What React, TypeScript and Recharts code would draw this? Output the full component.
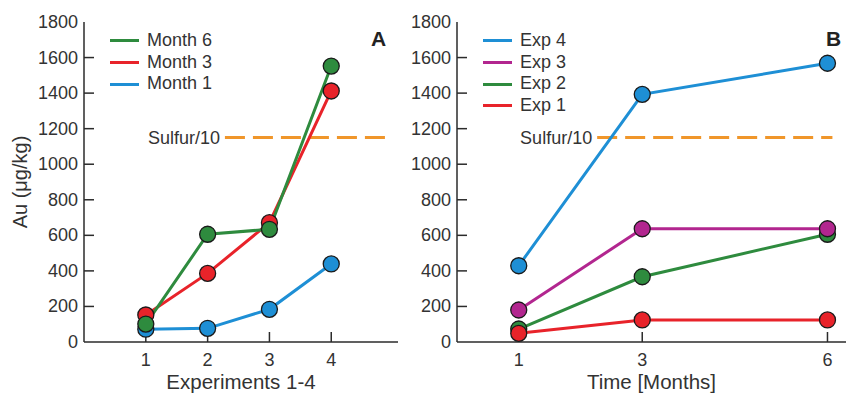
import React from 'react';
import { LineChart, Line, XAxis, YAxis, ReferenceLine, Legend, Label } from 'recharts';

const expNumbers = [1, 2, 3, 4];
const month6 = [101, 606, 634, 1552];
const month3 = [152, 386, 671, 1412];
const month1 = [72, 77, 184, 439];

const months = [1, 3, 6];
const exp4 = [429, 1393, 1568];
const exp3 = [180, 637, 637];
const exp2 = [73, 367, 606];
const exp1 = [49, 124, 124];

const yTicks = [0, 200, 400, 600, 800, 1000, 1200, 1400, 1600, 1800];
const sulfurLevel = 1150;
const sulfurA = [2.28, 4.9];
const sulfurB = [2.27, 6.08];

const C = {
  green: '#2E8B3E',
  red: '#E8232A',
  blue: '#1E8FD5',
  magenta: '#B2268F',
  orange: '#F0962A',
  axis: '#2b2b2b',
  text: '#333333',
};

const FONT = '"Liberation Sans", Arial, Helvetica, sans-serif';

const dataA = expNumbers.map((x, i) => ({ x, m6: month6[i], m3: month3[i], m1: month1[i] }));
const dataB = months.map((x, i) => ({ x, e4: exp4[i], e3: exp3[i], e2: exp2[i], e1: exp1[i] }));

const seriesA = [
  { key: 'm6', name: 'Month 6', color: C.green },
  { key: 'm3', name: 'Month 3', color: C.red },
  { key: 'm1', name: 'Month 1', color: C.blue },
];
const drawOrderA = ['m1', 'm3', 'm6'];

const seriesB = [
  { key: 'e4', name: 'Exp 4', color: C.blue },
  { key: 'e3', name: 'Exp 3', color: C.magenta },
  { key: 'e2', name: 'Exp 2', color: C.green },
  { key: 'e1', name: 'Exp 1', color: C.red },
];
const drawOrderB = ['e2', 'e1', 'e3', 'e4'];

const TICK_PX = 10;
const Y_GAP = 6;
const X_GAP = 11;
const PLOT_TOP = 22;
const CHART_H = 393;
const X_AXIS_H = 51;
const Y_AXIS_W = 84;
const Y_DOMAIN: [number, number] = [0, 1800];

const dot = (color: string) => ({ r: 8, fill: color, stroke: '#1a1a1a', strokeWidth: 1.3 });

function renderYTick(props: any) {
  const { x, y, payload } = props;
  return (
    <text x={x} y={y} textAnchor="end" dominantBaseline="central" fill={C.text} fontSize={18} fontFamily={FONT}>
      {payload.value}
    </text>
  );
}

function renderXTick(props: any) {
  const { x, y, payload } = props;
  return (
    <text x={x} y={y} dy="0.71em" textAnchor="middle" fill={C.text} fontSize={18} fontFamily={FONT}>
      {payload.value}
    </text>
  );
}

function LegendBox({ items }: { items: { name: string; color: string }[] }) {
  return (
    <div style={{ fontFamily: FONT, fontSize: 18, color: C.text, lineHeight: '21.7px' }}>
      {items.map((it) => (
        <div key={it.name} style={{ display: 'flex', alignItems: 'center', height: 21.7 }}>
          <span style={{ display: 'inline-block', width: 29, height: 3, background: it.color, marginRight: 8 }} />
          <span>{it.name}</span>
        </div>
      ))}
    </div>
  );
}

function YLabel(props: any) {
  const vb = props.viewBox || {};
  const cx = 20;
  const cy = (vb.y || 0) + (vb.height || 0) / 2;
  return (
    <text
      x={cx}
      y={cy}
      transform={`rotate(-90, ${cx}, ${cy})`}
      textAnchor="middle"
      dominantBaseline="central"
      fill={C.text}
      fontSize={20}
      fontFamily={FONT}
    >
      Au (μg/kg)
    </text>
  );
}

function Panel(props: {
  data: any[];
  series: { key: string; name: string; color: string }[];
  order: string[];
  xTicks: number[];
  xDomain: [number, number];
  xLabel: string;
  width: number;
  marginRight: number;
  sulfur: number[];
  legendLeft: number;
  showYLabel: boolean;
  rightBorder: boolean;
}) {
  const { data, series, order, xTicks, xDomain, xLabel, width, marginRight, sulfur, legendLeft, showYLabel, rightBorder } = props;
  const plotW = width - Y_AXIS_W - marginRight;
  const plotH = CHART_H - PLOT_TOP - X_AXIS_H;
  const xTickLen = (TICK_PX * (Y_DOMAIN[1] - Y_DOMAIN[0])) / plotH;
  const yTickLen = (TICK_PX * (xDomain[1] - xDomain[0])) / plotW;
  const innerY = yTicks.filter((t) => t > Y_DOMAIN[0] && t < Y_DOMAIN[1]);
  const tickSegs = [
    ...innerY.map((t) => ({ id: `y${t}`, pts: [{ x: xDomain[0], v: t }, { x: xDomain[0] + yTickLen, v: t }] })),
    ...xTicks.map((t) => ({ id: `x${t}`, pts: [{ x: t, v: Y_DOMAIN[0] }, { x: t, v: Y_DOMAIN[0] + xTickLen }] })),
  ];
  return (
    <LineChart
      width={width}
      height={CHART_H}
      data={data}
      margin={{ top: PLOT_TOP, right: marginRight, bottom: 0, left: 0 }}
      style={{ fontFamily: FONT }}
    >
      <XAxis
        dataKey="x"
        type="number"
        domain={xDomain}
        ticks={xTicks}
        allowDataOverflow
        height={X_AXIS_H}
        tickSize={0}
        tickMargin={X_GAP}
        tick={(p: any) => renderXTick(p)}
        stroke={C.axis}
        strokeWidth={1.5}
        tickLine={false}
        interval={0}
      >
        <Label value={xLabel} position="insideBottom" offset={4} style={{ fill: C.text, fontSize: 20.5, fontFamily: FONT }} />
      </XAxis>
      <XAxis
        xAxisId="top"
        orientation="top"
        type="number"
        domain={xDomain}
        allowDataOverflow
        height={0}
        tick={false}
        tickLine={false}
        stroke={C.axis}
        strokeWidth={1.5}
      />
      <YAxis
        type="number"
        domain={Y_DOMAIN}
        ticks={yTicks}
        width={Y_AXIS_W}
        allowDataOverflow
        tickSize={0}
        tickMargin={Y_GAP}
        tick={(p: any) => renderYTick(p)}
        stroke={C.axis}
        strokeWidth={1.5}
        tickLine={false}
        interval={0}
      >
        {showYLabel ? <Label content={YLabel} /> : null}
      </YAxis>
      {rightBorder ? (
        <YAxis
          yAxisId="right"
          orientation="right"
          type="number"
          domain={Y_DOMAIN}
          width={0}
          tick={false}
          tickLine={false}
          stroke={C.axis}
          strokeWidth={1.5}
        />
      ) : null}
      {tickSegs.map((s) => (
        <Line
          key={s.id}
          data={s.pts}
          dataKey="v"
          stroke={C.axis}
          strokeWidth={1.5}
          dot={false}
          activeDot={false}
          legendType="none"
          isAnimationActive={false}
        />
      ))}
      <ReferenceLine
        segment={[
          { x: sulfur[0], y: sulfurLevel },
          { x: sulfur[1], y: sulfurLevel },
        ]}
        stroke={C.orange}
        strokeWidth={3}
        strokeDasharray="20 8"
        ifOverflow="visible"
        label={{ value: 'Sulfur/10', position: 'left', offset: 5, fill: C.text, fontSize: 18, fontFamily: FONT }}
      />
      {order.map((k) => {
        const s = series.find((q) => q.key === k)!;
        return (
          <Line
            key={k}
            dataKey={k}
            name={s.name}
            stroke={s.color}
            strokeWidth={3}
            dot={dot(s.color)}
            activeDot={false}
            isAnimationActive={false}
            legendType="line"
          />
        );
      })}
      <Legend
        layout="vertical"
        align="center"
        verticalAlign="middle"
        wrapperStyle={{ position: 'absolute', left: legendLeft, top: 30, width: 'auto', height: 'auto' }}
        content={() => <LegendBox items={series} />}
      />
    </LineChart>
  );
}

export default function App() {
  return (
    <div style={{ position: 'absolute', left: 0, top: 0, width: 846, height: 393, overflow: 'hidden', background: '#fff' }}>
      <div style={{ position: 'absolute', left: 0, top: 0 }}>
        <Panel
          data={dataA}
          series={seriesA}
          order={drawOrderA}
          xTicks={expNumbers}
          xDomain={[0, 5.08]}
          xLabel="Experiments 1-4"
          width={400}
          marginRight={2}
          sulfur={sulfurA}
          legendLeft={110}
          showYLabel={true}
          rightBorder={true}
        />
      </div>
      <div style={{ position: 'absolute', left: 373, top: 0 }}>
        <Panel
          data={dataB}
          series={seriesB}
          order={drawOrderB}
          xTicks={months}
          xDomain={[0, 6.3]}
          xLabel="Time [Months]"
          width={473}
          marginRight={0}
          sulfur={sulfurB}
          legendLeft={110}
          showYLabel={false}
          rightBorder={false}
        />
      </div>
      <div style={{ position: 'absolute', left: 371, top: 27, fontFamily: FONT, fontWeight: 'bold', fontSize: 21, color: '#222' }}>A</div>
      <div style={{ position: 'absolute', left: 826, top: 27, fontFamily: FONT, fontWeight: 'bold', fontSize: 21, color: '#222' }}>B</div>
    </div>
  );
}
